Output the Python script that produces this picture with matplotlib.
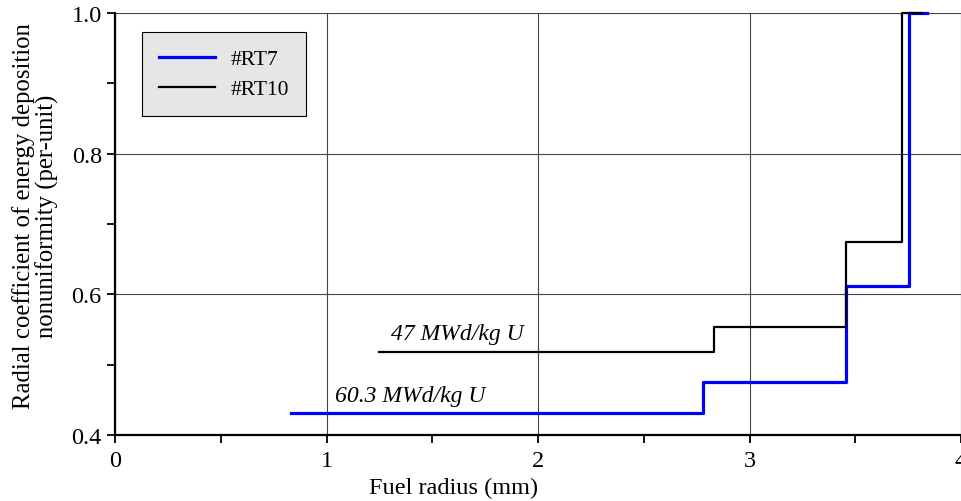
import matplotlib
matplotlib.use('Agg')
import matplotlib.pyplot as plt
from matplotlib.ticker import MultipleLocator, FormatStrFormatter

# --- Data (step profiles) ---
rt7_radius = [0.83, 2.78, 3.455, 3.754, 3.84]
rt7_coef = [0.431, 0.475, 0.612, 1.0, 1.0]

rt10_radius = [1.25, 2.83, 3.457, 3.72, 3.815]
rt10_coef = [0.518, 0.554, 0.674, 1.0, 1.0]

series_labels = ['#RT7', '#RT10']
burnup_labels = ['60.3 MWd/kg U', '47 MWd/kg U']
burnup_pos = [(1.04, 0.4555), (1.305, 0.5436)]

plt.rcParams['font.family'] = ['Liberation Serif', 'DejaVu Serif']

fig = plt.figure(figsize=(9.61, 5.02), dpi=100)
ax = fig.add_axes([0.1197, 0.1315, 0.8803, 0.8406])

ax.step(rt7_radius, rt7_coef, where='post', color='#0000ff', lw=2.3,
        label=series_labels[0], clip_on=False, zorder=3)
ax.step(rt10_radius, rt10_coef, where='post', color='black', lw=1.6,
        label=series_labels[1], clip_on=False, zorder=4)

for txt, (xx, yy) in zip(burnup_labels, burnup_pos):
    ax.text(xx, yy, txt, fontsize=17, style='italic', va='center', ha='left')

ax.set_xlim(0, 4)
ax.set_ylim(0.4, 1.0)
ax.xaxis.set_major_locator(MultipleLocator(1))
ax.xaxis.set_minor_locator(MultipleLocator(0.5))
ax.yaxis.set_major_locator(MultipleLocator(0.2))
ax.yaxis.set_minor_locator(MultipleLocator(0.1))
ax.yaxis.set_major_formatter(FormatStrFormatter('%.1f'))

ax.grid(True, which='major', color='#444444', lw=0.8)
ax.set_axisbelow(True)
ax.tick_params(which='both', direction='out', length=6, width=1.3,
               labelsize=17.5, colors='black')
ax.tick_params(axis='x', pad=5)

for side in ['right', 'top']:
    ax.spines[side].set_visible(False)
for side in ['left', 'bottom']:
    ax.spines[side].set_linewidth(1.6)

ax.set_xlabel('Fuel radius (mm)', fontsize=17.5)
ax.xaxis.set_label_coords(0.4, -0.1)
ax.set_ylabel('Radial coefficient of energy deposition\nnonuniformity (per-unit)',
              fontsize=17.8, linespacing=1.05)
ax.yaxis.set_label_coords(-0.066, 0.52)

leg = ax.legend(loc='upper left', bbox_to_anchor=(0.032, 0.955), fontsize=15.5,
                fancybox=False, framealpha=1, facecolor='#e6e6e6',
                edgecolor='black', handlelength=2.6, handletextpad=0.7,
                borderpad=0.8, labelspacing=0.45, borderaxespad=0)
leg.get_frame().set_linewidth(0.8)

fig.savefig('out.png', dpi=100)
plt.close(fig)
